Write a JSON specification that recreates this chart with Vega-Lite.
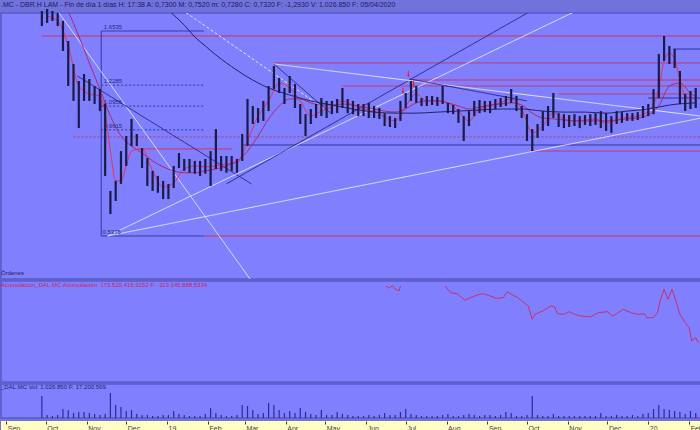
{
"$schema": "https://vega.github.io/schema/vega-lite/v6.json",
"background": "#7272dc",
"padding": 0,
"spacing": 0,
"config": {"view": {"fill": "#8080ff", "stroke": "#5a5ac8", "strokeWidth": 1.5}, "font": "Liberation Sans"},
"datasets": {
"px": [
{"d":"2018-09-28","lo":1.699,"hi":1.845,"v":5500000},{"d":"2018-10-02","lo":1.728,"hi":1.866,"v":750000},{"d":"2018-10-06","lo":1.747,"hi":1.845,"v":500000},{"d":"2018-10-10","lo":1.699,"hi":1.825,"v":750000},{"d":"2018-10-14","lo":1.482,"hi":1.747,"v":2250000},{"d":"2018-10-18","lo":1.223,"hi":1.565,"v":2000000},{"d":"2018-10-22","lo":1.127,"hi":1.380,"v":1250000},{"d":"2018-10-26","lo":0.971,"hi":1.257,"v":1500000},{"d":"2018-10-30","lo":1.127,"hi":1.306,"v":1500000},{"d":"2018-11-03","lo":1.127,"hi":1.271,"v":1250000},{"d":"2018-11-07","lo":1.108,"hi":1.223,"v":1000000},{"d":"2018-11-11","lo":1.066,"hi":1.203,"v":750000},{"d":"2018-11-15","lo":0.747,"hi":1.108,"v":1000000},{"d":"2018-11-19","lo":0.606,"hi":0.688,"v":6250000},{"d":"2018-11-23","lo":0.651,"hi":0.727,"v":3250000},{"d":"2018-11-27","lo":0.715,"hi":0.856,"v":2750000},{"d":"2018-12-01","lo":0.789,"hi":0.930,"v":1750000},{"d":"2018-12-05","lo":0.880,"hi":1.021,"v":2000000},{"d":"2018-12-09","lo":0.880,"hi":0.940,"v":1000000},{"d":"2018-12-13","lo":0.780,"hi":0.870,"v":750000},{"d":"2018-12-17","lo":0.707,"hi":0.824,"v":750000},{"d":"2018-12-21","lo":0.688,"hi":0.768,"v":500000},{"d":"2018-12-25","lo":0.681,"hi":0.747,"v":500000},{"d":"2018-12-29","lo":0.658,"hi":0.727,"v":750000},{"d":"2019-01-02","lo":0.658,"hi":0.715,"v":750000},{"d":"2019-01-06","lo":0.699,"hi":0.789,"v":1750000},{"d":"2019-01-10","lo":0.780,"hi":0.847,"v":1000000},{"d":"2019-01-14","lo":0.768,"hi":0.820,"v":750000},{"d":"2019-01-18","lo":0.760,"hi":0.820,"v":500000},{"d":"2019-01-22","lo":0.756,"hi":0.811,"v":500000},{"d":"2019-01-26","lo":0.747,"hi":0.811,"v":500000},{"d":"2019-01-30","lo":0.756,"hi":0.820,"v":1000000},{"d":"2019-02-03","lo":0.707,"hi":0.856,"v":2500000},{"d":"2019-02-07","lo":0.776,"hi":0.966,"v":1250000},{"d":"2019-02-11","lo":0.768,"hi":0.833,"v":750000},{"d":"2019-02-15","lo":0.760,"hi":0.833,"v":500000},{"d":"2019-02-19","lo":0.768,"hi":0.833,"v":500000},{"d":"2019-02-23","lo":0.760,"hi":0.820,"v":750000},{"d":"2019-02-27","lo":0.811,"hi":0.940,"v":3250000},{"d":"2019-03-03","lo":0.880,"hi":1.139,"v":3000000},{"d":"2019-03-07","lo":0.993,"hi":1.096,"v":2000000},{"d":"2019-03-11","lo":0.999,"hi":1.084,"v":1000000},{"d":"2019-03-15","lo":1.010,"hi":1.127,"v":1250000},{"d":"2019-03-19","lo":1.066,"hi":1.223,"v":3750000},{"d":"2019-03-23","lo":1.203,"hi":1.365,"v":3250000},{"d":"2019-03-27","lo":1.177,"hi":1.278,"v":2000000},{"d":"2019-03-31","lo":1.108,"hi":1.210,"v":1250000},{"d":"2019-04-04","lo":1.177,"hi":1.292,"v":1750000},{"d":"2019-04-08","lo":1.084,"hi":1.236,"v":1250000},{"d":"2019-04-12","lo":0.993,"hi":1.108,"v":2500000},{"d":"2019-04-16","lo":0.930,"hi":1.048,"v":1500000},{"d":"2019-04-20","lo":0.993,"hi":1.078,"v":1000000},{"d":"2019-04-24","lo":1.026,"hi":1.108,"v":750000},{"d":"2019-04-28","lo":1.037,"hi":1.145,"v":2000000},{"d":"2019-05-02","lo":1.026,"hi":1.127,"v":750000},{"d":"2019-05-06","lo":1.048,"hi":1.127,"v":750000},{"d":"2019-05-10","lo":1.054,"hi":1.139,"v":1500000},{"d":"2019-05-14","lo":1.084,"hi":1.210,"v":1000000},{"d":"2019-05-18","lo":1.054,"hi":1.139,"v":750000},{"d":"2019-05-22","lo":1.048,"hi":1.127,"v":500000},{"d":"2019-05-26","lo":1.037,"hi":1.108,"v":500000},{"d":"2019-05-30","lo":1.037,"hi":1.108,"v":500000},{"d":"2019-06-03","lo":1.026,"hi":1.115,"v":750000},{"d":"2019-06-07","lo":1.026,"hi":1.096,"v":500000},{"d":"2019-06-11","lo":1.021,"hi":1.084,"v":750000},{"d":"2019-06-15","lo":0.982,"hi":1.054,"v":1250000},{"d":"2019-06-19","lo":0.977,"hi":1.037,"v":750000},{"d":"2019-06-23","lo":0.971,"hi":1.026,"v":750000},{"d":"2019-06-27","lo":1.010,"hi":1.127,"v":1500000},{"d":"2019-07-01","lo":1.084,"hi":1.177,"v":2250000},{"d":"2019-07-05","lo":1.127,"hi":1.257,"v":1000000},{"d":"2019-07-09","lo":1.115,"hi":1.223,"v":750000},{"d":"2019-07-13","lo":1.096,"hi":1.145,"v":500000},{"d":"2019-07-17","lo":1.096,"hi":1.158,"v":500000},{"d":"2019-07-21","lo":1.102,"hi":1.158,"v":500000},{"d":"2019-07-25","lo":1.096,"hi":1.152,"v":500000},{"d":"2019-07-29","lo":1.108,"hi":1.223,"v":750000},{"d":"2019-08-02","lo":1.054,"hi":1.115,"v":1000000},{"d":"2019-08-06","lo":1.048,"hi":1.102,"v":500000},{"d":"2019-08-10","lo":0.999,"hi":1.078,"v":500000},{"d":"2019-08-14","lo":0.905,"hi":1.037,"v":750000},{"d":"2019-08-18","lo":0.982,"hi":1.066,"v":1000000},{"d":"2019-08-22","lo":1.037,"hi":1.127,"v":750000},{"d":"2019-08-26","lo":1.054,"hi":1.133,"v":500000},{"d":"2019-08-30","lo":1.060,"hi":1.127,"v":750000},{"d":"2019-09-03","lo":1.054,"hi":1.127,"v":750000},{"d":"2019-09-07","lo":1.078,"hi":1.139,"v":500000},{"d":"2019-09-11","lo":1.090,"hi":1.145,"v":750000},{"d":"2019-09-15","lo":1.096,"hi":1.158,"v":1500000},{"d":"2019-09-19","lo":1.115,"hi":1.203,"v":1250000},{"d":"2019-09-23","lo":1.066,"hi":1.158,"v":500000},{"d":"2019-09-27","lo":1.026,"hi":1.096,"v":500000},{"d":"2019-10-01","lo":0.905,"hi":1.048,"v":750000},{"d":"2019-10-05","lo":0.856,"hi":0.966,"v":5500000},{"d":"2019-10-09","lo":0.920,"hi":0.993,"v":750000},{"d":"2019-10-13","lo":0.956,"hi":1.066,"v":500000},{"d":"2019-10-17","lo":0.982,"hi":1.096,"v":500000},{"d":"2019-10-21","lo":1.026,"hi":1.177,"v":1000000},{"d":"2019-10-25","lo":0.977,"hi":1.054,"v":500000},{"d":"2019-10-29","lo":0.971,"hi":1.048,"v":500000},{"d":"2019-11-02","lo":0.977,"hi":1.043,"v":500000},{"d":"2019-11-06","lo":0.982,"hi":1.048,"v":500000},{"d":"2019-11-10","lo":0.971,"hi":1.037,"v":500000},{"d":"2019-11-14","lo":0.988,"hi":1.043,"v":500000},{"d":"2019-11-18","lo":0.982,"hi":1.048,"v":500000},{"d":"2019-11-22","lo":0.988,"hi":1.054,"v":500000},{"d":"2019-11-26","lo":0.971,"hi":1.066,"v":1250000},{"d":"2019-11-30","lo":0.956,"hi":1.054,"v":500000},{"d":"2019-12-04","lo":0.946,"hi":1.037,"v":500000},{"d":"2019-12-08","lo":0.993,"hi":1.066,"v":750000},{"d":"2019-12-12","lo":0.999,"hi":1.060,"v":500000},{"d":"2019-12-16","lo":1.010,"hi":1.054,"v":500000},{"d":"2019-12-20","lo":1.010,"hi":1.054,"v":750000},{"d":"2019-12-24","lo":1.015,"hi":1.060,"v":500000},{"d":"2019-12-28","lo":1.026,"hi":1.096,"v":1000000},{"d":"2020-01-01","lo":1.037,"hi":1.108,"v":1250000},{"d":"2020-01-05","lo":1.048,"hi":1.203,"v":2250000},{"d":"2020-01-09","lo":1.145,"hi":1.458,"v":3250000},{"d":"2020-01-13","lo":1.403,"hi":1.609,"v":2250000},{"d":"2020-01-17","lo":1.380,"hi":1.523,"v":2000000},{"d":"2020-01-21","lo":1.350,"hi":1.498,"v":1750000},{"d":"2020-01-25","lo":1.108,"hi":1.328,"v":1500000},{"d":"2020-01-29","lo":1.066,"hi":1.171,"v":1000000},{"d":"2020-02-02","lo":1.078,"hi":1.190,"v":1750000},{"d":"2020-02-06","lo":1.084,"hi":1.210,"v":1250000}
],
"ma": [
{"s":"fast","d":"2018-10-02","p":1.795},{"s":"fast","d":"2018-10-10","p":1.747},{"s":"fast","d":"2018-10-18","p":1.523},{"s":"fast","d":"2018-10-26","p":1.223},{"s":"fast","d":"2018-11-03","p":1.171},{"s":"fast","d":"2018-11-11","p":1.158},{"s":"fast","d":"2018-11-15","p":1.054},{"s":"fast","d":"2018-11-19","p":0.856},{"s":"fast","d":"2018-11-23","p":0.727},{"s":"fast","d":"2018-11-27","p":0.727},{"s":"fast","d":"2018-12-01","p":0.789},{"s":"fast","d":"2018-12-05","p":0.856},{"s":"fast","d":"2018-12-13","p":0.866},{"s":"fast","d":"2018-12-21","p":0.768},{"s":"fast","d":"2018-12-29","p":0.703},{"s":"fast","d":"2019-01-06","p":0.719},{"s":"fast","d":"2019-01-14","p":0.776},{"s":"fast","d":"2019-01-22","p":0.789},{"s":"fast","d":"2019-01-30","p":0.785},{"s":"fast","d":"2019-02-07","p":0.789},{"s":"fast","d":"2019-02-15","p":0.798},{"s":"fast","d":"2019-02-23","p":0.802},{"s":"fast","d":"2019-03-03","p":0.905},{"s":"fast","d":"2019-03-11","p":1.037},{"s":"fast","d":"2019-03-19","p":1.127},{"s":"fast","d":"2019-03-27","p":1.243},{"s":"fast","d":"2019-04-04","p":1.210},{"s":"fast","d":"2019-04-12","p":1.127},{"s":"fast","d":"2019-04-20","p":1.037},{"s":"fast","d":"2019-04-28","p":1.066},{"s":"fast","d":"2019-05-06","p":1.090},{"s":"fast","d":"2019-05-14","p":1.127},{"s":"fast","d":"2019-05-22","p":1.102},{"s":"fast","d":"2019-05-30","p":1.078},{"s":"fast","d":"2019-06-07","p":1.066},{"s":"fast","d":"2019-06-15","p":1.031},{"s":"fast","d":"2019-06-23","p":1.010},{"s":"fast","d":"2019-07-01","p":1.096},{"s":"fast","d":"2019-07-09","p":1.171},{"s":"fast","d":"2019-07-17","p":1.127},{"s":"fast","d":"2019-07-25","p":1.127},{"s":"fast","d":"2019-08-02","p":1.115},{"s":"fast","d":"2019-08-10","p":1.066},{"s":"fast","d":"2019-08-18","p":1.010},{"s":"fast","d":"2019-08-26","p":1.078},{"s":"fast","d":"2019-09-03","p":1.096},{"s":"fast","d":"2019-09-11","p":1.115},{"s":"fast","d":"2019-09-19","p":1.139},{"s":"fast","d":"2019-09-27","p":1.078},{"s":"fast","d":"2019-10-05","p":0.946},{"s":"fast","d":"2019-10-13","p":0.982},{"s":"fast","d":"2019-10-21","p":1.054},{"s":"fast","d":"2019-10-29","p":1.021},{"s":"fast","d":"2019-11-06","p":1.010},{"s":"fast","d":"2019-11-14","p":1.015},{"s":"fast","d":"2019-11-22","p":1.021},{"s":"fast","d":"2019-11-30","p":0.999},{"s":"fast","d":"2019-12-08","p":1.015},{"s":"fast","d":"2019-12-16","p":1.031},{"s":"fast","d":"2019-12-24","p":1.037},{"s":"fast","d":"2020-01-01","p":1.066},{"s":"fast","d":"2020-01-09","p":1.203},{"s":"fast","d":"2020-01-13","p":1.403},{"s":"fast","d":"2020-01-17","p":1.466},{"s":"fast","d":"2020-01-21","p":1.418},{"s":"fast","d":"2020-01-25","p":1.271},{"s":"fast","d":"2020-01-29","p":1.158},{"s":"fast","d":"2020-02-06","p":1.139},
{"s":"slow","d":"2018-10-18","p":1.845},{"s":"slow","d":"2018-10-26","p":1.609},{"s":"slow","d":"2018-11-03","p":1.388},{"s":"slow","d":"2018-11-11","p":1.203},{"s":"slow","d":"2018-11-19","p":1.037},{"s":"slow","d":"2018-11-27","p":0.930},{"s":"slow","d":"2018-12-05","p":0.880},{"s":"slow","d":"2018-12-13","p":0.847},{"s":"slow","d":"2018-12-21","p":0.811},{"s":"slow","d":"2018-12-29","p":0.785},{"s":"slow","d":"2019-01-06","p":0.768},{"s":"slow","d":"2019-01-14","p":0.760},{"s":"slow","d":"2019-01-22","p":0.760},{"s":"slow","d":"2019-01-30","p":0.768},{"s":"slow","d":"2019-02-07","p":0.776},{"s":"slow","d":"2019-02-15","p":0.789},{"s":"slow","d":"2019-02-23","p":0.811},{"s":"slow","d":"2019-03-03","p":0.856},{"s":"slow","d":"2019-03-11","p":0.930},{"s":"slow","d":"2019-03-19","p":1.021},{"s":"slow","d":"2019-03-27","p":1.096},{"s":"slow","d":"2019-04-04","p":1.139},{"s":"slow","d":"2019-04-12","p":1.139},{"s":"slow","d":"2019-04-20","p":1.115},{"s":"slow","d":"2019-04-28","p":1.102},{"s":"slow","d":"2019-05-06","p":1.102},{"s":"slow","d":"2019-05-14","p":1.108},{"s":"slow","d":"2019-05-22","p":1.102},{"s":"slow","d":"2019-05-30","p":1.090},{"s":"slow","d":"2019-06-07","p":1.078},{"s":"slow","d":"2019-06-15","p":1.066},{"s":"slow","d":"2019-06-23","p":1.060},{"s":"slow","d":"2019-07-01","p":1.078},{"s":"slow","d":"2019-07-09","p":1.115},{"s":"slow","d":"2019-07-17","p":1.127},{"s":"slow","d":"2019-07-25","p":1.127},{"s":"slow","d":"2019-08-02","p":1.115},{"s":"slow","d":"2019-08-10","p":1.096},{"s":"slow","d":"2019-08-18","p":1.078},{"s":"slow","d":"2019-08-26","p":1.090},{"s":"slow","d":"2019-09-03","p":1.102},{"s":"slow","d":"2019-09-11","p":1.108},{"s":"slow","d":"2019-09-19","p":1.115},{"s":"slow","d":"2019-09-27","p":1.102},{"s":"slow","d":"2019-10-05","p":1.054},{"s":"slow","d":"2019-10-13","p":1.026},{"s":"slow","d":"2019-10-21","p":1.021},{"s":"slow","d":"2019-10-29","p":1.015},{"s":"slow","d":"2019-11-06","p":1.010},{"s":"slow","d":"2019-11-14","p":1.010},{"s":"slow","d":"2019-11-22","p":1.010},{"s":"slow","d":"2019-11-30","p":1.010},{"s":"slow","d":"2019-12-08","p":1.015},{"s":"slow","d":"2019-12-16","p":1.021},{"s":"slow","d":"2019-12-24","p":1.026},{"s":"slow","d":"2020-01-01","p":1.043},{"s":"slow","d":"2020-01-09","p":1.096},{"s":"slow","d":"2020-01-17","p":1.223},{"s":"slow","d":"2020-01-25","p":1.243},{"s":"slow","d":"2020-02-02","p":1.177},{"s":"slow","d":"2020-02-06","p":1.152},
{"s":"long","d":"2018-12-29","p":1.896},{"s":"long","d":"2019-01-06","p":1.805},{"s":"long","d":"2019-01-14","p":1.708},{"s":"long","d":"2019-01-22","p":1.600},{"s":"long","d":"2019-01-30","p":1.523},{"s":"long","d":"2019-02-07","p":1.450},{"s":"long","d":"2019-02-15","p":1.388},{"s":"long","d":"2019-03-03","p":1.285},{"s":"long","d":"2019-03-19","p":1.210},{"s":"long","d":"2019-04-04","p":1.164},{"s":"long","d":"2019-04-20","p":1.127},{"s":"long","d":"2019-05-06","p":1.102},{"s":"long","d":"2019-05-22","p":1.078},{"s":"long","d":"2019-06-07","p":1.060},{"s":"long","d":"2019-06-23","p":1.054},{"s":"long","d":"2019-07-09","p":1.054},{"s":"long","d":"2019-07-25","p":1.060},{"s":"long","d":"2019-08-10","p":1.066},{"s":"long","d":"2019-08-26","p":1.072},{"s":"long","d":"2019-09-11","p":1.078},{"s":"long","d":"2019-09-27","p":1.078},{"s":"long","d":"2019-10-13","p":1.066},{"s":"long","d":"2019-10-29","p":1.060},{"s":"long","d":"2019-11-14","p":1.060},{"s":"long","d":"2019-11-30","p":1.054},{"s":"long","d":"2019-12-16","p":1.066},{"s":"long","d":"2020-01-01","p":1.078},{"s":"long","d":"2020-01-17","p":1.102},{"s":"long","d":"2020-02-06","p":1.115}
],
"hl": [
{"k":"res","d1":"2018-09-28","d2":"2020-02-10","p":1.609},
{"k":"res","d1":"2019-03-23","d2":"2020-02-10","p":1.388},
{"k":"res","d1":"2019-07-05","d2":"2020-02-10","p":1.264},
{"k":"res","d1":"2019-05-14","d2":"2020-02-10","p":1.223},
{"k":"res","d1":"2019-10-25","d2":"2020-02-01","p":1.171},
{"k":"res","d1":"2018-12-10","d2":"2019-02-19","p":0.866},
{"k":"res","d1":"2019-10-05","d2":"2020-02-10","p":0.856},
{"k":"res","d1":"2019-01-29","d2":"2020-02-10","p":0.5375},
{"k":"sup","d1":"2018-10-22","d2":"2020-02-10","p":0.925},
{"k":"navy","d1":"2019-02-28","d2":"2020-02-10","p":0.885},
{"k":"navy","d1":"2020-01-20","d2":"2020-02-10","p":1.498},
{"k":"navy","d1":"2020-01-01","d2":"2020-02-10","p":1.145},
{"k":"fib","d1":"2018-11-12","d2":"2019-01-29","p":1.6535},
{"k":"fib","d1":"2018-11-12","d2":"2019-01-29","p":0.5375},
{"k":"fibdot","d1":"2018-11-12","d2":"2019-01-29","p":1.2285},
{"k":"fibdot","d1":"2018-11-12","d2":"2019-01-29","p":1.0955},
{"k":"fibdot","d1":"2018-11-12","d2":"2019-01-29","p":0.9615}
],
"tl": [
{"id":"A","k":"white","d":"2018-10-11","p":1.825},{"id":"A","k":"white","d":"2019-03-06","p":0.420},
{"id":"B","k":"tnavy","d":"2018-10-25","p":1.292},{"id":"B","k":"tnavy","d":"2019-03-06","p":0.715},
{"id":"D","k":"whitedash","d":"2019-01-06","p":1.917},{"id":"D","k":"whitedash","d":"2019-05-05","p":1.054},
{"id":"E","k":"white","d":"2018-11-17","p":0.5375},{"id":"E","k":"white","d":"2019-11-15","p":1.896},
{"id":"F","k":"white","d":"2018-11-17","p":0.5375},{"id":"F","k":"white","d":"2020-02-10","p":1.026},
{"id":"G","k":"tnavy","d":"2019-02-15","p":0.715},{"id":"G","k":"tnavy","d":"2019-10-08","p":1.876},
{"id":"I","k":"white","d":"2019-03-23","p":1.380},{"id":"I","k":"white","d":"2020-02-10","p":1.037},
{"id":"J","k":"tnavy","d":"2019-03-23","p":1.380},{"id":"J","k":"tnavy","d":"2019-05-05","p":1.054},
{"id":"K","k":"tnavy","d":"2019-07-04","p":1.271},{"id":"K","k":"tnavy","d":"2019-10-01","p":1.127}
],
"acum": [
{"seg":1,"d":"2019-06-16","v":196},{"seg":1,"d":"2019-06-18","v":194},{"seg":1,"d":"2019-06-21","v":196.3},{"seg":1,"d":"2019-06-23","v":193},{"seg":1,"d":"2019-06-26","v":191},{"seg":1,"d":"2019-06-27","v":196},
{"seg":2,"d":"2019-07-31","v":196},{"seg":2,"d":"2019-08-04","v":189.3},{"seg":2,"d":"2019-08-09","v":188.3},{"seg":2,"d":"2019-08-15","v":181.7},{"seg":2,"d":"2019-08-19","v":184.3},{"seg":2,"d":"2019-08-24","v":187},{"seg":2,"d":"2019-08-29","v":188.3},{"seg":2,"d":"2019-09-03","v":186},{"seg":2,"d":"2019-09-08","v":183.7},{"seg":2,"d":"2019-09-13","v":184.3},{"seg":2,"d":"2019-09-16","v":190.3},{"seg":2,"d":"2019-09-19","v":187.7},{"seg":2,"d":"2019-09-24","v":184.3},{"seg":2,"d":"2019-09-29","v":179.3},{"seg":2,"d":"2019-10-02","v":176},{"seg":2,"d":"2019-10-05","v":162.7},{"seg":2,"d":"2019-10-07","v":167.7},{"seg":2,"d":"2019-10-13","v":171},{"seg":2,"d":"2019-10-19","v":176},{"seg":2,"d":"2019-10-22","v":175},{"seg":2,"d":"2019-10-24","v":168.3},{"seg":2,"d":"2019-10-29","v":167.7},{"seg":2,"d":"2019-11-02","v":170.3},{"seg":2,"d":"2019-11-06","v":167.7},{"seg":2,"d":"2019-11-11","v":166},{"seg":2,"d":"2019-11-18","v":165},{"seg":2,"d":"2019-11-24","v":169.3},{"seg":2,"d":"2019-12-01","v":170.3},{"seg":2,"d":"2019-12-05","v":166},{"seg":2,"d":"2019-12-08","v":168.3},{"seg":2,"d":"2019-12-13","v":172.7},{"seg":2,"d":"2019-12-19","v":169.3},{"seg":2,"d":"2019-12-24","v":167.7},{"seg":2,"d":"2019-12-29","v":168.3},{"seg":2,"d":"2019-12-31","v":164.3},{"seg":2,"d":"2020-01-05","v":164.3},{"seg":2,"d":"2020-01-08","v":169.3},{"seg":2,"d":"2020-01-10","v":181},{"seg":2,"d":"2020-01-13","v":192.7},{"seg":2,"d":"2020-01-16","v":182.7},{"seg":2,"d":"2020-01-19","v":192.7},{"seg":2,"d":"2020-01-22","v":181},{"seg":2,"d":"2020-01-25","v":167.7},{"seg":2,"d":"2020-01-29","v":159.3},{"seg":2,"d":"2020-02-01","v":154.3},{"seg":2,"d":"2020-02-03","v":141},{"seg":2,"d":"2020-02-06","v":144.3},{"seg":2,"d":"2020-02-08","v":139.3}
]
},
"vconcat": [
{
"width": 700, "height": 266,
"title": {"text": ".MC - DBR.H LAM - Fin de día 1 días H: 17:38 A: 0,7300 M: 0,7520 m: 0,7280 C: 0,7320 F: -1,2930 V: 1.026.850 F: 05/04/2020", "anchor": "start", "fontSize": 7, "fontWeight": "normal", "color": "#1c1c5a", "offset": 0, "frame": "group"},
"resolve": {"scale": {"color": "independent", "strokeDash": "independent"}},
"encoding": {
"x": {"field": "d", "type": "temporal", "axis": null, "scale": {"type": "utc", "domain": [{"year": 2018, "month": 8, "date": 28, "utc": true}, {"year": 2020, "month": 2, "date": 10, "utc": true}]}}
},
"layer": [
{"data": {"name": "hl"}, "mark": {"type": "rule", "strokeWidth": 1},
 "encoding": {"x": {"field": "d1", "type": "temporal"}, "x2": {"field": "d2"},
  "y": {"field": "p", "type": "quantitative", "axis": null, "scale": {"type": "log", "domain": [0.4245, 1.825], "nice": false, "zero": false}},
  "color": {"field": "k", "type": "nominal", "legend": null, "scale": {"domain": ["res", "sup", "navy", "fib", "fibdot"], "range": ["#d2305a", "#b03a6a", "#2a2a90", "#3434a0", "#3434a0"]}},
  "strokeDash": {"field": "k", "type": "nominal", "legend": null, "scale": {"domain": ["res", "sup", "navy", "fib", "fibdot"], "range": [[1, 0], [2, 2], [1, 0], [1, 0], [2, 2]]}}}},
{"data": {"values": [{"d": "2018-11-12", "lo": 0.5375, "hi": 1.6535}]}, "mark": {"type": "rule", "color": "#3434a0", "strokeWidth": 1},
 "encoding": {"y": {"field": "lo", "type": "quantitative"}, "y2": {"field": "hi"}}},
{"data": {"name": "tl"}, "mark": {"type": "line", "strokeWidth": 1, "clip": true},
 "encoding": {"y": {"field": "p", "type": "quantitative"}, "detail": {"field": "id"},
  "color": {"field": "k", "type": "nominal", "legend": null, "scale": {"domain": ["white", "whitedash", "tnavy"], "range": ["#e4e4ff", "#e4e4ff", "#26267e"]}},
  "strokeDash": {"field": "k", "type": "nominal", "legend": null, "scale": {"domain": ["white", "whitedash", "tnavy"], "range": [[1, 0], [3, 2], [1, 0]]}}}},
{"data": {"name": "ma"}, "mark": {"type": "line", "strokeWidth": 1, "clip": true, "interpolate": "monotone"},
 "encoding": {"y": {"field": "p", "type": "quantitative"}, "detail": {"field": "s"},
  "color": {"field": "s", "type": "nominal", "legend": null, "scale": {"domain": ["fast", "slow", "long"], "range": ["#e8305a", "#b02868", "#22226a"]}}}},
{"data": {"name": "px"}, "mark": {"type": "rule", "strokeWidth": 2.2, "color": "#1a1a48"},
 "encoding": {"y": {"field": "lo", "type": "quantitative"}, "y2": {"field": "hi"}}},
{"data": {"values": [{"d": "2019-06-29", "p": 1.19}, {"d": "2019-07-03", "p": 1.306}, {"d": "2019-07-07", "p": 1.236}]},
 "mark": {"type": "point", "shape": "arrow", "angle": 180, "filled": true, "size": 45, "color": "#e82020", "opacity": 1},
 "encoding": {"y": {"field": "p", "type": "quantitative"}}},
{"data": {"values": [{"d": "2018-11-14", "p": 1.6535, "t": "1.6535"}, {"d": "2018-11-14", "p": 1.2285, "t": "1.2285"}, {"d": "2018-11-14", "p": 1.0955, "t": "1.0955"}, {"d": "2018-11-14", "p": 0.9615, "t": "0.9615"}, {"d": "2018-11-13", "p": 0.5375, "t": "0.5375"}]},
 "mark": {"type": "text", "align": "left", "baseline": "bottom", "fontSize": 6, "color": "#28287a", "dy": -1},
 "encoding": {"y": {"field": "p", "type": "quantitative"}, "text": {"field": "t"}}},
{"data": {"values": [{"d": "2018-08-28", "p": 0.4387, "t": "Órdenes"}]},
 "mark": {"type": "text", "align": "left", "baseline": "middle", "fontSize": 6, "color": "#1c1c5a"},
 "encoding": {"y": {"field": "p", "type": "quantitative"}, "text": {"field": "t"}}}
]
},
{
"width": 700, "height": 101,
"encoding": {
"x": {"field": "d", "type": "temporal", "axis": null, "scale": {"type": "utc", "domain": [{"year": 2018, "month": 8, "date": 28, "utc": true}, {"year": 2020, "month": 2, "date": 10, "utc": true}]}}
},
"layer": [
{"data": {"name": "acum"}, "mark": {"type": "line", "strokeWidth": 1, "color": "#c8306a"},
 "encoding": {"y": {"field": "v", "type": "quantitative", "axis": null, "scale": {"domain": [100, 201], "nice": false, "zero": false}}, "detail": {"field": "seg"}}},
{"data": {"values": [{"d": "2018-08-28", "v": 200, "t": "Acumulación_DAL.MC  Acumulación: 173.520.416,9152  F: -113.145.888,5334"}]},
 "mark": {"type": "text", "align": "left", "baseline": "top", "fontSize": 6, "color": "#d02050"},
 "encoding": {"y": {"field": "v", "type": "quantitative"}, "text": {"field": "t"}}}
]
},
{
"width": 700, "height": 34,
"encoding": {
"x": {"field": "d", "type": "temporal", "axis": null, "scale": {"type": "utc", "domain": [{"year": 2018, "month": 8, "date": 28, "utc": true}, {"year": 2020, "month": 2, "date": 10, "utc": true}]}}
},
"layer": [
{"data": {"name": "px"}, "mark": {"type": "rule", "strokeWidth": 1.2, "color": "#2a2a96"},
 "encoding": {"y": {"field": "v", "type": "quantitative", "axis": null, "scale": {"domain": [0, 8500000], "nice": false}}, "y2": {"datum": 0}}},
{"data": {"values": [{"d": "2018-08-28", "v": 8400000, "t": "_DAL.MC  Vol: 1.026.850  F: 17.200.569"}]},
 "mark": {"type": "text", "align": "left", "baseline": "top", "fontSize": 6, "color": "#1c1c6a"},
 "encoding": {"y": {"field": "v", "type": "quantitative"}, "text": {"field": "t"}}}
]
},
{
"width": 700, "height": 12,
"view": {"fill": "#ffffc4", "stroke": null},
"data": {"name": "px"},
"mark": {"type": "rule", "opacity": 0},
"encoding": {
"x": {"field": "d", "type": "temporal",
 "scale": {"type": "utc", "domain": [{"year": 2018, "month": 8, "date": 28, "utc": true}, {"year": 2020, "month": 2, "date": 10, "utc": true}]},
 "axis": {"orient": "bottom", "offset": -12, "domain": false, "grid": false, "title": null, "tickSize": 3, "tickColor": "#404040", "labelAlign": "left", "labelBaseline": "top", "labelPadding": 0, "labelOffset": 1, "labelFontSize": 7, "labelColor": "#404040", "labelOverlap": false, "labelFlush": false,
  "values": [{"year": 2018, "month": 9, "date": 1, "utc": true}, {"year": 2018, "month": 10, "date": 1, "utc": true}, {"year": 2018, "month": 11, "date": 1, "utc": true}, {"year": 2018, "month": 12, "date": 1, "utc": true}, {"year": 2019, "month": 1, "date": 1, "utc": true}, {"year": 2019, "month": 2, "date": 1, "utc": true}, {"year": 2019, "month": 3, "date": 1, "utc": true}, {"year": 2019, "month": 4, "date": 1, "utc": true}, {"year": 2019, "month": 5, "date": 1, "utc": true}, {"year": 2019, "month": 6, "date": 1, "utc": true}, {"year": 2019, "month": 7, "date": 1, "utc": true}, {"year": 2019, "month": 8, "date": 1, "utc": true}, {"year": 2019, "month": 9, "date": 1, "utc": true}, {"year": 2019, "month": 10, "date": 1, "utc": true}, {"year": 2019, "month": 11, "date": 1, "utc": true}, {"year": 2019, "month": 12, "date": 1, "utc": true}, {"year": 2020, "month": 1, "date": 1, "utc": true}, {"year": 2020, "month": 2, "date": 1, "utc": true}],
  "labelExpr": "utcFormat(datum.value, '%m') == '01' ? utcFormat(datum.value, '%y') : utcFormat(datum.value, '%b')"}}
}
}
]
}
